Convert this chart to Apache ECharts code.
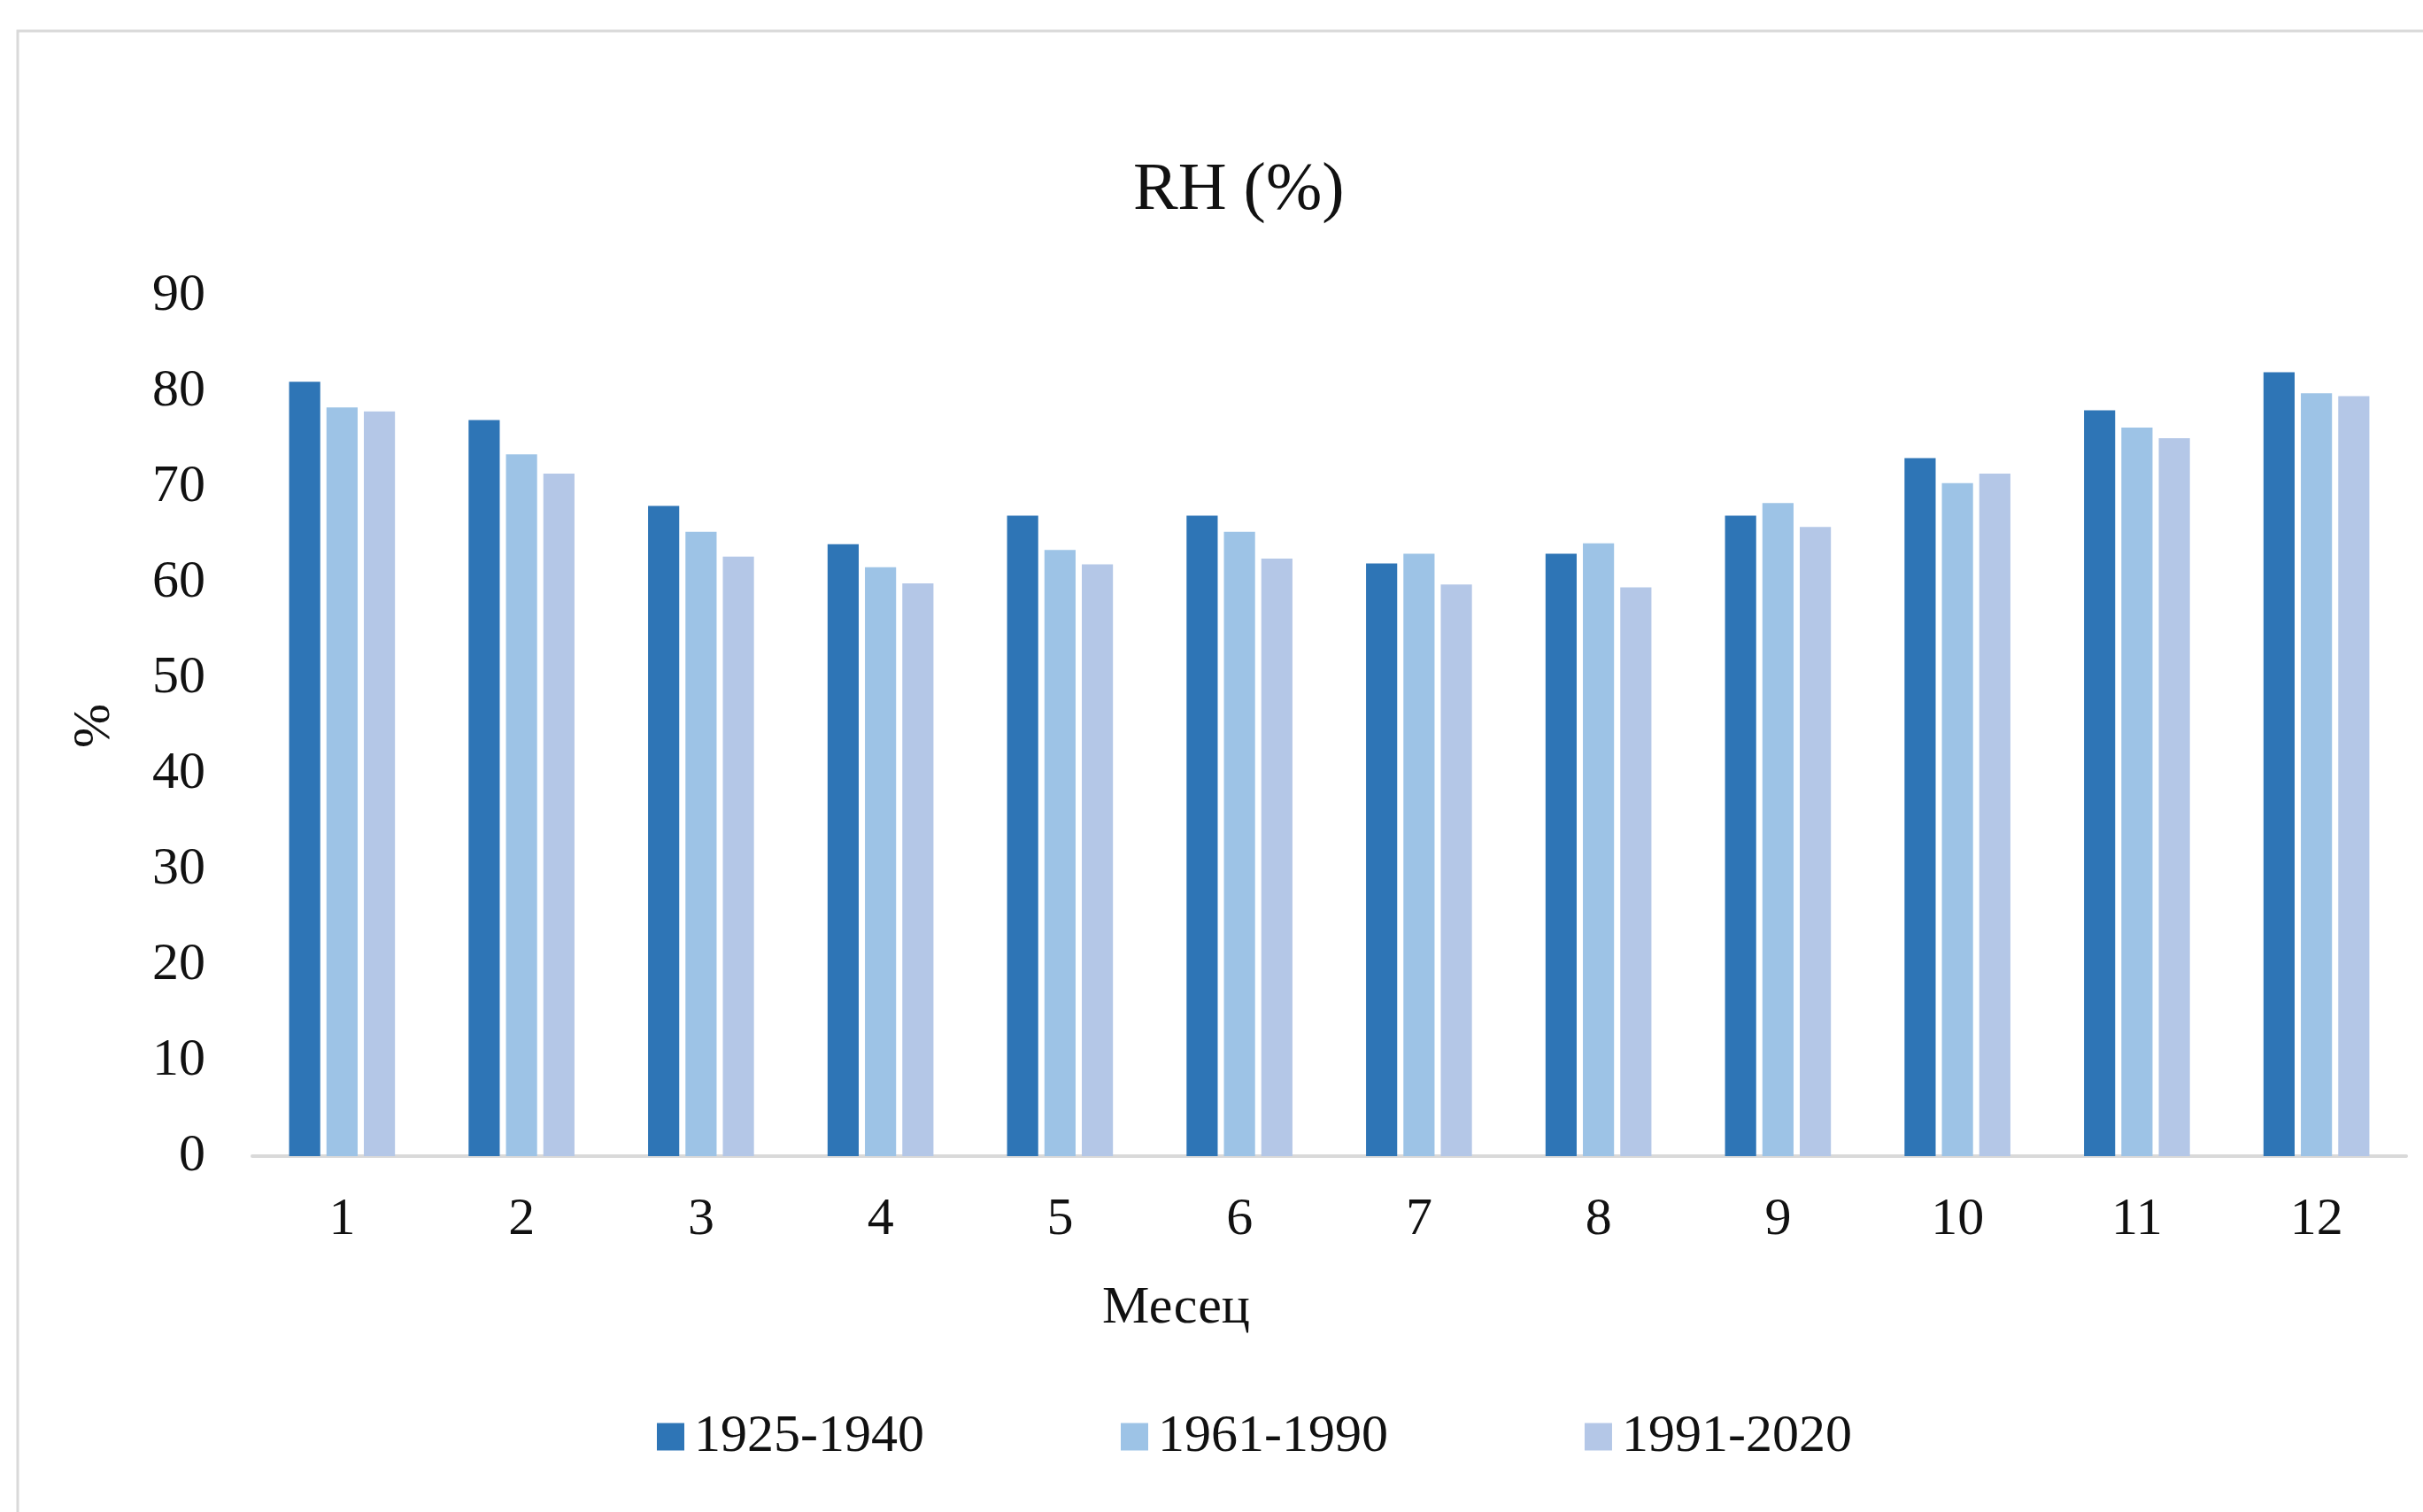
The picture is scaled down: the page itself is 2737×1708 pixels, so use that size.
<!DOCTYPE html>
<html>
<head>
<meta charset="utf-8">
<script src="https://cdn.jsdelivr.net/npm/echarts@6/dist/echarts.min.js"></script>
<style>
html,body{margin:0;padding:0;background:#fff;}
#chart{width:2737px;height:1708px;}
</style>
</head>
<body>
<div id="chart"></div>
<script>
var months = ['1','2','3','4','5','6','7','8','9','10','11','12'];
var seriesNames = ['1925-1940','1961-1990','1991-2020'];
var rh1925 = [81, 77, 68, 64, 67, 67, 62, 63, 67, 73, 78, 82];
var rh1961 = [78.3, 73.4, 65.3, 61.6, 63.4, 65.3, 63.0, 64.1, 68.3, 70.4, 76.2, 79.8];
var rh1991 = [77.9, 71.4, 62.7, 59.9, 61.9, 62.5, 59.8, 59.5, 65.8, 71.4, 75.1, 79.5];
var yTicks = {min: 0, max: 90, interval: 10};

var colors = ['#2E75B6', '#9DC3E6', '#B4C7E7'];
var font = '"Liberation Serif", "Times New Roman", serif';

var chart = echarts.init(document.getElementById('chart'), null, {renderer: 'canvas'});
var dataSets = [rh1925, rh1961, rh1991];

chart.setOption({
  backgroundColor: '#ffffff',
  animation: false,
  graphic: [{
    type: 'rect',
    shape: {x: 20, y: 35, width: 3000, height: 3000},
    style: {fill: 'none', stroke: '#d9d9d9', lineWidth: 3},
    silent: true
  }],
  title: {
    text: 'RH (%)',
    left: 1275,
    top: 173,
    textStyle: {fontFamily: font, fontSize: 76, fontWeight: 'normal', color: '#111'}
  },
  legend: {
    left: 737,
    top: 1588,
    itemWidth: 31,
    itemHeight: 31,
    itemGap: 222,
    icon: 'rect',
    data: seriesNames,
    textStyle: {fontFamily: font, fontSize: 60, color: '#111', padding: [0, 0, 0, 6]}
  },
  grid: {left: 285, right: 19, top: 334, bottom: 402, containLabel: false},
  xAxis: {
    type: 'category',
    data: months,
    name: 'Месец',
    nameLocation: 'middle',
    nameGap: 142,
    nameTextStyle: {fontFamily: font, fontSize: 60, color: '#111', padding: [0, 346, 0, 0]},
    axisLine: {show: true, lineStyle: {color: '#d9d9d9', width: 4}},
    axisTick: {show: false},
    axisLabel: {fontFamily: font, fontSize: 60, color: '#111', margin: 42},
    splitLine: {show: false}
  },
  yAxis: {
    type: 'value',
    min: yTicks.min,
    max: yTicks.max,
    interval: yTicks.interval,
    name: '%',
    nameLocation: 'middle',
    nameRotate: 90,
    nameGap: 148,
    nameTextStyle: {fontFamily: font, fontSize: 60, color: '#111'},
    axisLine: {show: false},
    axisTick: {show: false},
    axisLabel: {fontFamily: font, fontSize: 60, color: '#111', margin: 53},
    splitLine: {show: false}
  },
  series: seriesNames.map(function (name, i) {
    return {
      name: name,
      type: 'bar',
      data: dataSets[i],
      barGap: '20%',
      barCategoryGap: '41%',
      itemStyle: {color: colors[i]}
    };
  })
});
</script>
</body>
</html>
